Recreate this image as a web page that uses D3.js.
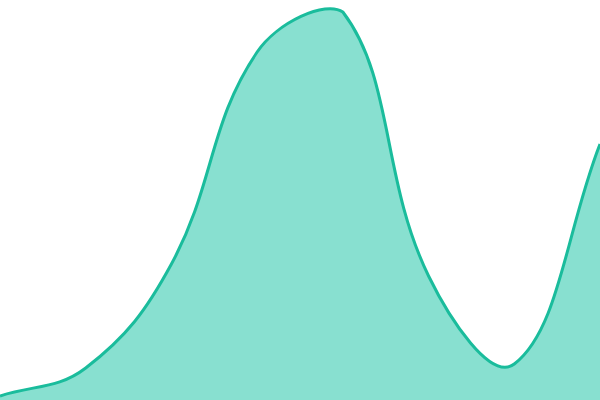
<!DOCTYPE html>
<html>
<head>
<meta charset="utf-8">
<script src="https://cdn.jsdelivr.net/npm/d3@7"></script>
<style>
  html, body { margin: 0; padding: 0; background: #fff; }
  svg { display: block; }
</style>
</head>
<body>
<div id="chart"></div>
<script>
// data points, evenly spaced across the width
const labels = [0, 1, 2, 3, 4, 5, 6, 7];
const values = [1, 8, 34, 87, 97, 31, 9, 64];

const w = 600, h = 400;

// spline with tension, control arms scaled by neighbour distance,
// control points kept inside the drawing area
function tensionSpline(tension) {
  function Curve(context) { this._context = context; }
  Curve.prototype = {
    areaStart() { this._line = 0; },
    areaEnd() { this._line = NaN; },
    lineStart() { this._pts = []; },
    point(x, y) { this._pts.push([+x, +y]); },
    lineEnd() {
      const p = this._pts, c = this._context, n = p.length;
      const clampX = v => Math.max(0, Math.min(w, v));
      const clampY = v => Math.max(0, Math.min(h, v));
      if (n) {
        if (this._line) c.lineTo(p[0][0], p[0][1]);
        else c.moveTo(p[0][0], p[0][1]);
        const cps = p.map((cur, i) => {
          const prev = p[i - 1] || cur, next = p[i + 1] || cur;
          const d01 = Math.hypot(cur[0] - prev[0], cur[1] - prev[1]);
          const d12 = Math.hypot(next[0] - cur[0], next[1] - cur[1]);
          let s01 = d01 / (d01 + d12), s12 = d12 / (d01 + d12);
          if (isNaN(s01)) s01 = 0;
          if (isNaN(s12)) s12 = 0;
          const fa = tension * s01, fb = tension * s12;
          return {
            px: clampX(cur[0] - fa * (next[0] - prev[0])),
            py: clampY(cur[1] - fa * (next[1] - prev[1])),
            nx: clampX(cur[0] + fb * (next[0] - prev[0])),
            ny: clampY(cur[1] + fb * (next[1] - prev[1]))
          };
        });
        for (let i = 1; i < n; i++) {
          c.bezierCurveTo(cps[i - 1].nx, cps[i - 1].ny, cps[i].px, cps[i].py, p[i][0], p[i][1]);
        }
      }
      if (this._line || (this._line !== 0 && n === 1)) c.closePath();
      this._line = 1 - this._line;
    }
  };
  return context => new Curve(context);
}

const svg = d3.select("#chart")
  .append("svg")
  .attr("width", w)
  .attr("height", h);

const xScale = d3.scaleLinear().domain(d3.extent(labels)).range([0, w]);
const yScale = d3.scaleLinear().domain([0, 100]).range([h, 0]);

const pts = labels.map((l, i) => [l, values[i]]);
const curve = tensionSpline(0.4);

const area = d3.area()
  .x(d => xScale(d[0]))
  .y0(yScale(0))
  .y1(d => yScale(d[1]))
  .curve(curve);

const line = d3.line()
  .x(d => xScale(d[0]))
  .y(d => yScale(d[1]))
  .curve(curve);

svg.append("path")
  .datum(pts)
  .attr("d", area)
  .attr("fill", "#88e0d0");

svg.append("path")
  .datum(pts)
  .attr("d", line)
  .attr("fill", "none")
  .attr("stroke", "#1abc9c")
  .attr("stroke-width", 3);
</script>
</body>
</html>
